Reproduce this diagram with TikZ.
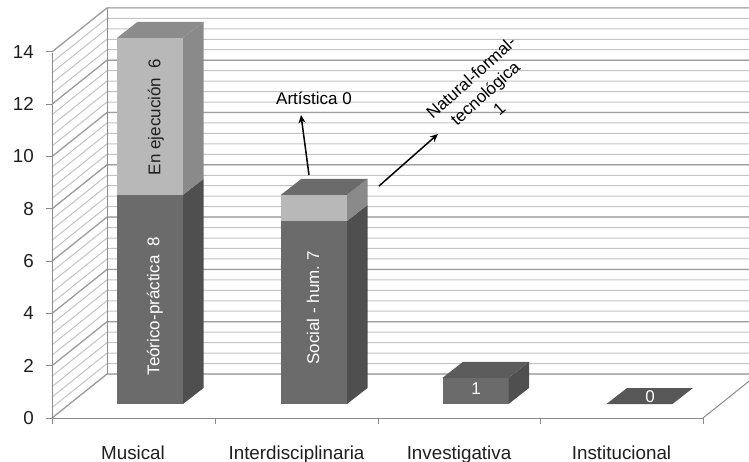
\documentclass[tikz,border=0pt]{standalone}
\usepackage{fontspec}
\setmainfont{Liberation Sans}
\usetikzlibrary{arrows.meta}

% bar shades
\definecolor{darkfront}{gray}{0.42}
\definecolor{darkside}{gray}{0.31}
\definecolor{darktop}{gray}{0.36}
\definecolor{flatbar}{gray}{0.34}
\definecolor{lightfront}{gray}{0.72}
\definecolor{lightside}{gray}{0.54}
\definecolor{lighttopA}{gray}{0.55}
\definecolor{lighttopB}{gray}{0.42}
\definecolor{minorline}{gray}{0.77}
\definecolor{majorline}{gray}{0.62}
\definecolor{axisline}{gray}{0.55}
\definecolor{inktext}{gray}{0.12}

% one stacked segment of a 3D bar: left x, bottom y, top y, front colour, side colour
\newcommand\barseg[5]{%
  \fill[#4] (#1,#2) rectangle (#1+66,#3);
  \fill[#5] (#1+66,#2) -- (#1+86.5,#2-16) -- (#1+86.5,#3-16) -- (#1+66,#3) -- cycle;}
% lid of a 3D bar: left x, top y, colour
\newcommand\bartop[3]{%
  \fill[#3] (#1,#2) -- (#1+20.5,#2-16) -- (#1+86.5,#2-16) -- (#1+66,#2) -- cycle;}

\begin{document}
\begin{tikzpicture}[x=1pt,y=-1pt,
  minorgrid/.style={draw=minorline,line width=1pt},
  majorgrid/.style={draw=majorline,line width=1.2pt},
  axis/.style={draw=axisline,line width=1pt},
  ticklabel/.style={font=\fontsize{18.8}{22}\selectfont,text=inktext,inner sep=0pt},
  catlabel/.style={font=\fontsize{18.8}{22}\selectfont,text=inktext,inner sep=0pt,anchor=base},
  barlabel/.style={font=\fontsize{17}{20}\selectfont,inner sep=0pt},
  note/.style={font=\fontsize{17}{21}\selectfont,text=black,inner sep=0pt,align=center},
  callout/.style={draw=black,line width=1.5pt,-{Stealth[length=8pt,width=7pt]}}]

\useasboundingbox (0,0) rectangle (749,462);
\fill[white] (0,0) rectangle (749,462);

% side wall, back wall and floor
\begin{scope}
  \clip (0,0) rectangle (749,462);
  \foreach \i in {0,...,35}{
    \pgfmathsetmacro\yb{374-10.46*\i}
    \pgfmathsetmacro\yf{418-10.46*\i}
    \draw[minorgrid] (52,\yf) -- (107,\yb) -- (760,\yb);
  }
  \foreach \i in {0,...,7}{
    \pgfmathsetmacro\yb{374-52.3*\i}
    \pgfmathsetmacro\yf{418-52.3*\i}
    \draw[majorgrid] (52,\yf) -- (107,\yb) -- (760,\yb);
  }
  \draw[axis] (107,374) -- (107,7.9);
  \draw[axis] (703,418) -- (758,374);
\end{scope}

% axes and ticks
\draw[axis] (52,52.9) -- (52,418) -- (703,418);
\foreach \i in {0,...,7}{
  \pgfmathsetmacro\yf{418-52.3*\i}
  \pgfmathtruncatemacro\val{2*\i}
  \draw[axis] (46,\yf) -- (52,\yf);
  \node[ticklabel,anchor=east] (ytick\i) at (34,\yf) {\val};
}
\foreach \xx in {52,215,378,540,703}{
  \draw[axis] (\xx,418) -- (\xx,424);
}

% category names
\node[catlabel] (cmus) at (133,459) {Musical};
\node[catlabel] (cint) at (296.5,459) {Interdisciplinaria};
\node[catlabel] (cinv) at (459,459) {Investigativa};
\node[catlabel] (cins) at (621.5,459) {Institucional};

% Musical
\barseg{117}{404}{194.8}{darkfront}{darkside}
\barseg{117}{194.8}{37.9}{lightfront}{lightside}
\bartop{117}{37.9}{lighttopA}
% Interdisciplinaria
\barseg{281}{404}{220.95}{darkfront}{darkside}
\barseg{281}{220.95}{194.8}{lightfront}{lightside}
\bartop{281}{194.8}{lighttopB}
% Investigativa
\barseg{442.5}{404}{377.85}{darkfront}{darkside}
\bartop{442.5}{377.85}{darktop}
% Institucional
\bartop{606.5}{404}{flatbar}

% values inside the bars
\node[barlabel,text=white,rotate=90] (teo) at (155,306) {Teórico-práctica\ \ 8};
\node[barlabel,text=inktext,rotate=90] (eje) at (156,117) {En ejecución\ \ 6};
\node[barlabel,text=white,rotate=90] (soc) at (313,308) {Social - hum.\ 7};
\node[barlabel,text=white] (inv) at (476,389) {1};
\node[barlabel,text=white] (ins) at (650,397) {0};

% call-outs for the hidden series
\node[note] (art) at (314,98) {Artística 0};
\node[note,rotate=42] (nat) at (485,93) {Natural-formal-\\tecnológica\\1};
\coordinate (artfrom) at (309,175);
\coordinate (artto) at (301,115);
\coordinate (natfrom) at (379,186);
\coordinate (natto) at (438,134);
\draw[callout] (artfrom) -- (artto);
\draw[callout] (natfrom) -- (natto);
\end{tikzpicture}
\end{document}
